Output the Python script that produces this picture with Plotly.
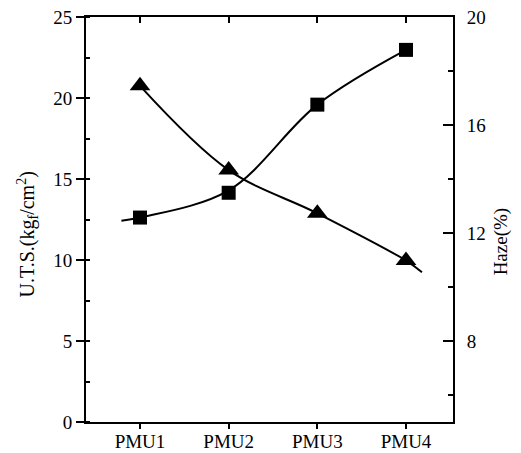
import plotly.graph_objects as go

categories = ["PMU1", "PMU2", "PMU3", "PMU4"]
cat_pos = [0, 1, 2, 3]
uts_values = [12.62, 14.15, 19.59, 22.97]
haze_values = [17.45, 14.33, 12.73, 10.98]

# smooth fitted curves
uts_curve_x = [-0.21, 0, 1, 2, 3]
uts_curve_y = [12.42, 12.62, 14.3, 19.59, 22.97]
haze_curve_x = [0, 1, 2, 3, 3.18]
haze_curve_y = [17.45, 14.33, 12.73, 10.98, 10.55]

left_ticks = [0, 5, 10, 15, 20, 25]
right_ticks = [8, 12, 16, 20]

left_title = "U.T.S.(kg<sub>f</sub>/cm<sup>2</sup>)"
right_title = "Haze(%)"

FONT = "Liberation Serif"
xr = [-0.609, 3.53]

fig = go.Figure()
fig.add_trace(go.Scatter(x=uts_curve_x, y=uts_curve_y, mode="lines",
                         line=dict(color="black", width=2, shape="spline", smoothing=1.0),
                         showlegend=False, hoverinfo="skip"))
fig.add_trace(go.Scatter(x=cat_pos, y=uts_values, mode="markers",
                         marker=dict(symbol="square", size=14, color="black"),
                         showlegend=False))
fig.add_trace(go.Scatter(x=haze_curve_x, y=haze_curve_y, mode="lines", yaxis="y2",
                         line=dict(color="black", width=2, shape="spline", smoothing=1.0),
                         showlegend=False, hoverinfo="skip"))
fig.add_trace(go.Scatter(x=cat_pos, y=haze_values, mode="markers", yaxis="y2",
                         marker=dict(symbol="triangle-up", size=18, color="black"),
                         showlegend=False))
# invisible trace for top axis
fig.add_trace(go.Scatter(x=cat_pos, y=uts_values, xaxis="x2", mode="markers",
                         marker=dict(opacity=0), showlegend=False, hoverinfo="skip"))

fig.update_layout(
    width=513, height=445,
    margin=dict(l=78, r=68, t=9, b=31),
    paper_bgcolor="white", plot_bgcolor="white",
    font=dict(family=FONT, size=19, color="black"),
    xaxis=dict(range=xr, tickvals=cat_pos, ticktext=categories, automargin=False,
               ticklabeloverflow="allow",
               showgrid=False, zeroline=False, showline=True, linecolor="black",
               linewidth=2, ticks="outside", ticklen=5, tickwidth=1.5, tickcolor="black"),
    xaxis2=dict(range=xr, overlaying="x", side="top", tickvals=cat_pos, automargin=False,
                showticklabels=False, showgrid=False, zeroline=False, showline=True,
                linecolor="black", linewidth=2, ticks="inside", ticklen=6,
                tickwidth=1.5, tickcolor="black"),
    yaxis=dict(range=[0, 25], tickvals=left_ticks, showgrid=False, zeroline=False,
               automargin=False, ticklabeloverflow="allow",
               showline=True, linecolor="black", linewidth=2, ticks="outside",
               ticklen=8, tickwidth=1.5, tickcolor="black",
               minor=dict(dtick=2.5, tick0=0, ticks="inside", ticklen=4, tickcolor="black")),
    yaxis2=dict(range=[5, 20], tickvals=right_ticks, overlaying="y", side="right",
                automargin=False, ticklabeloverflow="allow", ticklabelstandoff=8,
                showgrid=False, zeroline=False, showline=True, linecolor="black",
                linewidth=2, ticks="inside", ticklen=10, tickwidth=1.5, tickcolor="black",
                minor=dict(dtick=2, tick0=0, ticks="inside", ticklen=5, tickcolor="black")),
    annotations=[
        dict(text=left_title, textangle=-90, xref="paper", yref="paper",
             x=0, y=0.463, xanchor="center", yanchor="middle", xshift=-58,
             showarrow=False, font=dict(size=20)),
        dict(text=right_title, textangle=-90, xref="paper", yref="paper",
             x=1, y=0.446, xanchor="center", yanchor="middle", xshift=48,
             showarrow=False, font=dict(size=19)),
    ],
)

try:
    fig.layout.xaxis.ticklabelstandoff = -4
except Exception:
    fig.layout.xaxis.ticklen = 3

fig.write_html("out.html")
